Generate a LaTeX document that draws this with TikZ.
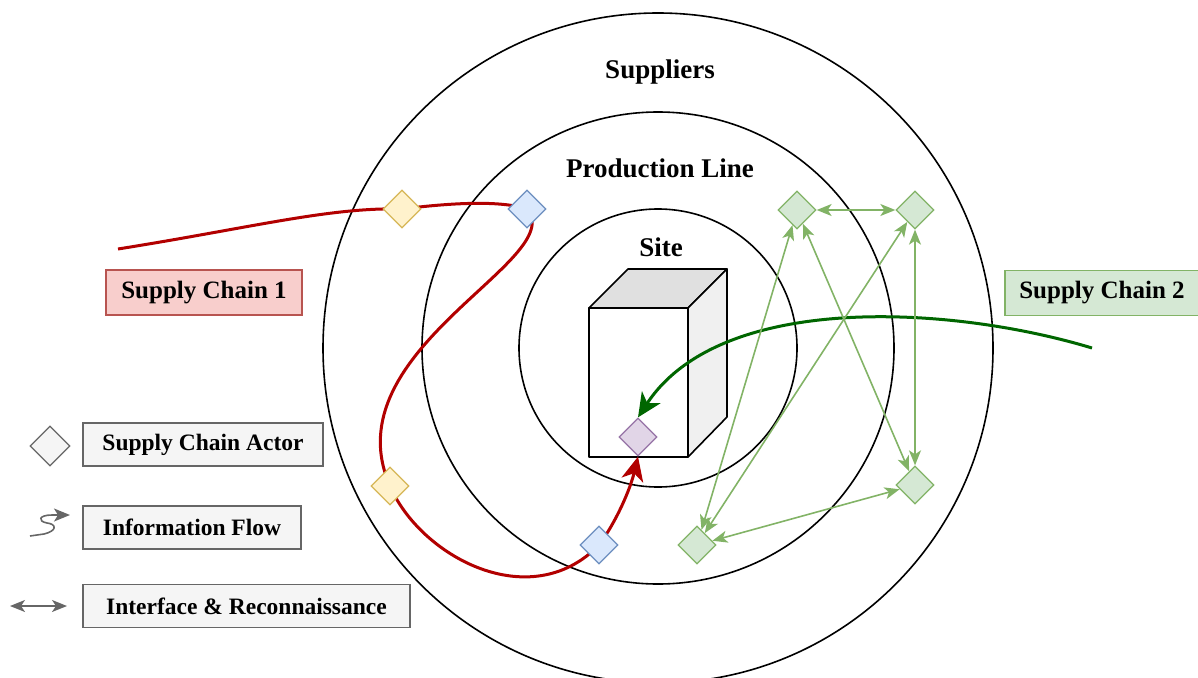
\documentclass[tikz,border=0pt]{standalone}
\usepackage{fontspec}
\setmainfont{Liberation Serif}
\usetikzlibrary{shapes.geometric,arrows.meta,backgrounds}
\definecolor{redc}{HTML}{B20000}
\definecolor{greenc}{HTML}{006600}
\definecolor{lgstroke}{HTML}{82B366}
\definecolor{lgfill}{HTML}{D5E8D4}
\definecolor{yfill}{HTML}{FFF2CC}
\definecolor{ystroke}{HTML}{D6B656}
\definecolor{bfill}{HTML}{DAE8FC}
\definecolor{bstroke}{HTML}{6C8EBF}
\definecolor{pfill}{HTML}{E1D5E7}
\definecolor{pstroke}{HTML}{9673A6}
\definecolor{rfill}{HTML}{F8CECC}
\definecolor{rstroke}{HTML}{B85450}
\definecolor{gfill}{HTML}{F5F5F5}
\definecolor{gstroke}{HTML}{666666}
\definecolor{topface}{HTML}{E0E0E0}
\definecolor{sideface}{HTML}{F0F0F0}
\begin{document}
\begin{tikzpicture}[x=1pt,y=-1pt,
  actor/.style={diamond, minimum size=38pt, inner sep=0pt, line width=1.3pt},
  yact/.style={actor, fill=yfill, draw=ystroke},
  bact/.style={actor, fill=bfill, draw=bstroke},
  pact/.style={actor, fill=pfill, draw=pstroke},
  gact/.style={actor, fill=lgfill, draw=lgstroke},
  ringlabel/.style={font=\bfseries\fontsize{27}{32}\selectfont},
  chainbox/.style={line width=1.3pt, minimum height=45pt, inner sep=0pt, font=\bfseries\fontsize{25}{30}\selectfont},
  legbox/.style={draw=gstroke, fill=gfill, line width=1.3pt, minimum height=43pt, inner sep=0pt, font=\bfseries\fontsize{23.5}{28}\selectfont},
  ring/.style={draw=black, line width=1.6pt},
  redflow/.style={draw=redc, line width=3pt},
  greenflow/.style={draw=greenc, line width=3pt},
  bigtip/.style={-{Stealth[length=24pt,width=22pt,inset=7pt]}},
  iface/.style={draw=lgstroke, line width=1.6pt, {Stealth[length=15pt,width=12pt,inset=4pt]}-{Stealth[length=15pt,width=12pt,inset=4pt]}},
  legline/.style={draw=gstroke, line width=1.6pt}
]
\useasboundingbox (0,0) rectangle (1198,677);
\clip (0,0) rectangle (1198,677);

% ---------- background: rings and site cube ----------
\begin{pgfonlayer}{background}
  \coordinate (ctr) at (658,348);
  \draw[ring] (ctr) circle[radius=335];
  \draw[ring] (ctr) circle[radius=236];
  \draw[ring] (ctr) circle[radius=139];
  % cube
  \draw[line width=1.6pt, fill=topface, line join=round] (589,308) -- (628,269) -- (727,269) -- (688,308) -- cycle;
  \draw[line width=1.6pt, fill=sideface, line join=round] (688,308) -- (727,269) -- (727,417) -- (688,457) -- cycle;
  \draw[line width=1.6pt, fill=white, line join=round] (589,308) rectangle (688,457);
\end{pgfonlayer}

% ---------- ring labels ----------
\node[ringlabel] (lsup) at (660,72) {Suppliers};
\node[ringlabel] (lprod) at (660,168) {Production Line};
\node[ringlabel] (lsite) at (661,247) {Site};

% ---------- chain labels ----------
\node[chainbox, draw=rstroke, fill=rfill, minimum width=196pt] (sc1) at (204,292.5) {Supply Chain 1};
\node[chainbox, draw=lgstroke, fill=lgfill, minimum width=194pt] (sc2) at (1102,293) {Supply Chain 2};

% ---------- actors ----------
\node[yact] (y1) at (402,209) {};
\node[bact] (b1) at (527,209) {};
\node[yact] (y2) at (390,486) {};
\node[bact] (b2) at (599,545) {};
\node[pact] (p) at (638,437) {};
\node[gact] (g1) at (797,210) {};
\node[gact] (g2) at (915,210) {};
\node[gact] (g3) at (915,485) {};
\node[gact] (g4) at (697,545) {};

\coordinate (rs) at (118,249);
\coordinate (gs) at (1092,348);

% ---------- flows ----------
\begin{pgfonlayer}{background}
  \draw[redflow] (rs) .. controls (250,228) and (330,207) .. (y1.center)
    .. controls (450,203) and (500,200) .. (b1.center)
    .. controls (570,260) and (330,350) .. (y2.center)
    .. controls (420,556) and (530,616) .. (b2.center);
  \draw[redflow, bigtip] (b2.center) .. controls (616,522) and (630,490) .. (p.south);
  \draw[greenflow, bigtip] (gs) .. controls (950,305) and (720,292) .. (p.north);
  \draw[iface] (g1) -- (g2);
  \draw[iface] (g2) -- (g3);
  \draw[iface] (g1) -- (g4);
  \draw[iface] (g1) -- (g3);
  \draw[iface] (g2) -- (g4);
  \draw[iface] (g4) -- (g3);
\end{pgfonlayer}

% ---------- legend ----------
\node[actor, fill=gfill, draw=gstroke, minimum size=40pt] (legact) at (50,446) {};
\node[legbox, minimum width=240pt] (leg1) at (203,444.5) {Supply Chain Actor};
\node[legbox, minimum width=218pt] (leg2) at (192,527.5) {Information Flow};
\node[legbox, minimum width=327pt] (leg3) at (246.5,606) {Interface \& Reconnaissance};

\coordinate (sq0) at (30,536);
\coordinate (sq1) at (70,515);
\draw[legline, -{Stealth[length=16pt,width=13pt,inset=4pt]}] (sq0) -- (44,534)
  .. controls (57,531) and (57,524) .. (47,523)
  .. controls (37,521) and (39,515) .. (52,515) -- (sq1);

\coordinate (da0) at (10,606);
\coordinate (da1) at (67,606);
\draw[legline, {Stealth[length=15pt,width=12pt,inset=4pt]}-{Stealth[length=15pt,width=12pt,inset=4pt]}] (da0) -- (da1);
\end{tikzpicture}
\end{document}
